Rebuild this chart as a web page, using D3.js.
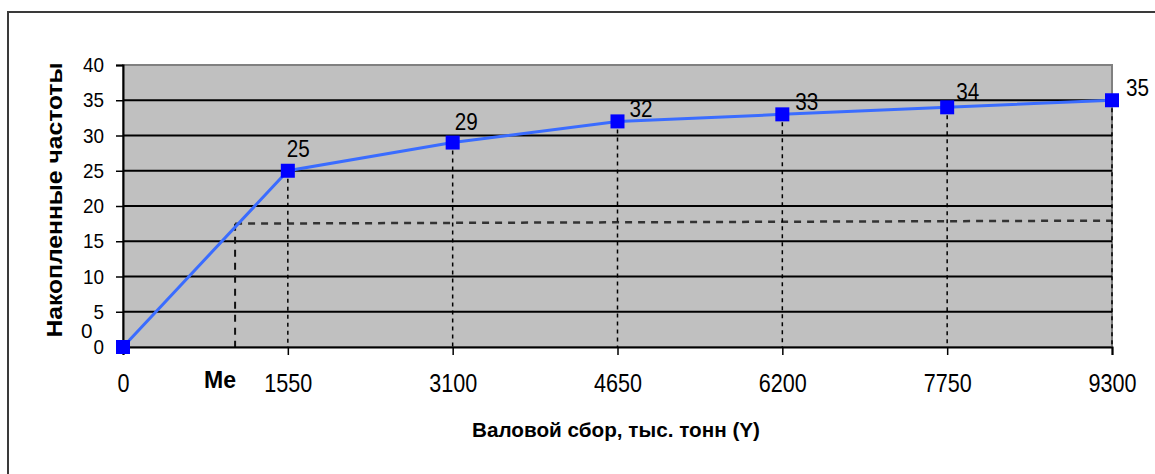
<!DOCTYPE html>
<html>
<head>
<meta charset="utf-8">
<script src="https://cdn.jsdelivr.net/npm/d3@7"></script>
<style>
body { margin: 0; background: #fff; }
svg { display: block; }
text { font-family: "Liberation Sans", Arial, sans-serif; fill: #000; }
</style>
</head>
<body>
<script>
// cumulative frequencies vs gross harvest
const harvest = [0, 1550, 3100, 4650, 6200, 7750, 9300]
const cumFreq = [0, 25, 29, 32, 33, 34, 35]
const yTicks = [0, 5, 10, 15, 20, 25, 30, 35, 40]
const medianHarvest = 1054
const medianFreq = 17.5

// where each value label sits relative to its marker
const labelShift = [[-42, -9], [-1, -14], [2, -13], [12, -4], [13, -4], [9, -7], [14, -4]]

const W = 1155, H = 474
const mLeft = 123, mRight = 1112, mTop = 65, mBottom = 347

const svg = d3.select("body").append("svg")
  .attr("width", W)
  .attr("height", H)

const x = d3.scaleLinear().domain([0, 9300]).range([mLeft, mRight])
const y = d3.scaleLinear().domain([0, 40]).range([mBottom, mTop])

// outer frame (only top and left edges visible)
svg.append("path")
  .attr("d", `M8,${H} L8,12 L${W},12`)
  .attr("fill", "none")
  .attr("stroke", "#3a3a3a")
  .attr("stroke-width", 2)

// plot background
svg.append("rect")
  .attr("x", mLeft).attr("y", mTop)
  .attr("width", mRight - mLeft).attr("height", mBottom - mTop)
  .attr("fill", "#c0c0c0")
  .attr("stroke", "#808080")
  .attr("stroke-width", 2)

// gridlines
svg.append("g")
  .selectAll("line")
  .data(yTicks.filter(d => d > 0 && d < 40))
  .enter().append("line")
  .attr("x1", mLeft).attr("x2", mRight)
  .attr("y1", d => y(d)).attr("y2", d => y(d))
  .attr("stroke", "#000")
  .attr("stroke-width", 2)

// median guide lines
svg.append("line")
  .attr("x1", x(medianHarvest)).attr("x2", x(9300))
  .attr("y1", y(medianFreq)).attr("y2", y(medianFreq) - 3)
  .attr("stroke", "#333")
  .attr("stroke-width", 2.5)
  .attr("stroke-dasharray", "7,6")

svg.append("line")
  .attr("x1", x(medianHarvest)).attr("x2", x(medianHarvest))
  .attr("y1", y(medianFreq)).attr("y2", mBottom + 6)
  .attr("stroke", "#111")
  .attr("stroke-width", 2)
  .attr("stroke-dasharray", "7,6")

// drop lines from each point
svg.append("g")
  .selectAll("line")
  .data(harvest.slice(1))
  .enter().append("line")
  .attr("x1", d => x(d)).attr("x2", d => x(d))
  .attr("y1", (d, i) => y(cumFreq[i + 1]))
  .attr("y2", mBottom)
  .attr("stroke", "#000")
  .attr("stroke-width", 1.5)
  .attr("stroke-dasharray", "4,4")

// axes
const yAxis = svg.append("g")
  .attr("transform", `translate(${mLeft},0)`)
  .call(d3.axisLeft(y).tickValues(yTicks).tickSize(7).tickPadding(12))
yAxis.select(".domain").attr("stroke", "#000").attr("stroke-width", 2)
yAxis.selectAll(".tick line").attr("stroke", "#000").attr("stroke-width", 1.5)
yAxis.selectAll("text")
  .attr("font-size", 21)
  .attr("font-family", "Liberation Sans, Arial, sans-serif")
  .attr("textLength", d => String(d).length * 10.5)
  .attr("lengthAdjust", "spacingAndGlyphs")

const xAxis = svg.append("g")
  .attr("transform", `translate(0,${mBottom})`)
  .call(d3.axisBottom(x).tickValues(harvest).tickFormat(d3.format("d")).tickSize(8).tickPadding(19))
xAxis.select(".domain").attr("stroke", "#000").attr("stroke-width", 2)
xAxis.selectAll(".tick line").attr("stroke", "#000").attr("stroke-width", 1.5)
xAxis.selectAll("text")
  .attr("font-size", 25)
  .attr("font-family", "Liberation Sans, Arial, sans-serif")
  .attr("textLength", d => String(d).length * 12)
  .attr("lengthAdjust", "spacingAndGlyphs")

// the curve
const line = d3.line()
  .x((d, i) => x(harvest[i]))
  .y(d => y(d))

svg.append("path")
  .attr("fill", "none")
  .attr("stroke", "#3a6cff")
  .attr("stroke-width", 3)
  .attr("d", line(cumFreq))

svg.selectAll("rect.pt")
  .data(cumFreq)
  .enter().append("rect")
  .attr("class", "pt")
  .attr("x", (d, i) => x(harvest[i]) - 7)
  .attr("y", d => y(d) - 7)
  .attr("width", 14).attr("height", 14)
  .attr("fill", "#0000ff")

svg.selectAll("text.lbl")
  .data(cumFreq)
  .enter().append("text")
  .attr("class", "lbl")
  .attr("x", (d, i) => x(harvest[i]) + labelShift[i][0])
  .attr("y", (d, i) => y(d) + labelShift[i][1])
  .attr("font-size", (d, i) => i === 0 ? 20 : 24)
  .attr("textLength", d => String(d).length * 11.5)
  .attr("lengthAdjust", "spacingAndGlyphs")
  .text(d => d)

// titles
svg.append("text")
  .attr("x", x(medianHarvest) - 31).attr("y", 388)
  .attr("font-size", 23).attr("font-weight", "bold")
  .attr("textLength", 32).attr("lengthAdjust", "spacingAndGlyphs")
  .text("Me")

svg.append("text")
  .attr("x", 616).attr("y", 437)
  .attr("text-anchor", "middle")
  .attr("font-size", 21).attr("font-weight", "bold")
  .attr("textLength", 288).attr("lengthAdjust", "spacingAndGlyphs")
  .text("Валовой сбор, тыс. тонн (Y)")

svg.append("text")
  .attr("transform", `translate(62,200) rotate(-90)`)
  .attr("text-anchor", "middle")
  .attr("font-size", 22).attr("font-weight", "bold")
  .attr("textLength", 275).attr("lengthAdjust", "spacingAndGlyphs")
  .text("Накопленные частоты")
</script>
</body>
</html>
